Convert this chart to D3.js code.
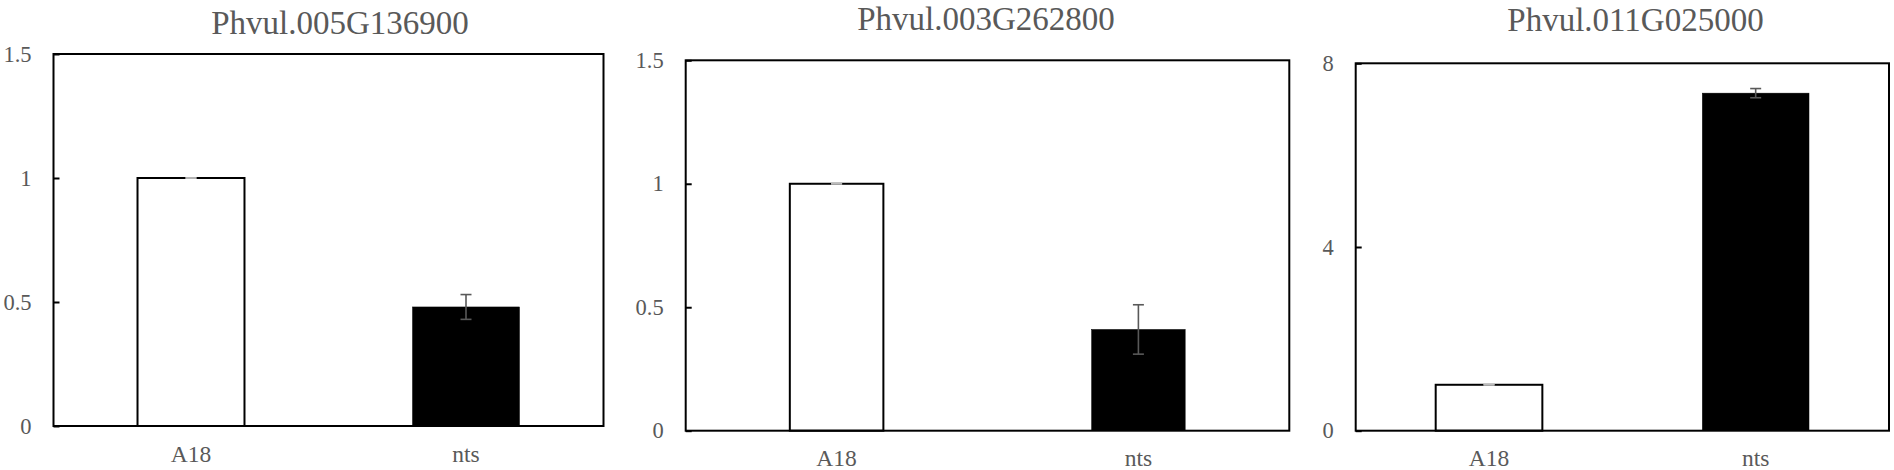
<!DOCTYPE html>
<html>
<head>
<meta charset="utf-8">
<script src="https://cdn.jsdelivr.net/npm/d3@7"></script>
<style>
  body { margin: 0; background: #fff; }
  svg { display: block; }
</style>
</head>
<body>
<div id="container"></div>
<script>
const w = 1894;
const h = 470;

// data
const genes = ['Phvul.005G136900', 'Phvul.003G262800', 'Phvul.011G025000'];
const lines = ['A18', 'nts'];
const means = [[1, 0.48], [1, 0.41], [1, 7.35]];
const errors = [[0, 0.05], [0, 0.10], [0, 0.10]];
const yTicks = [[0, 0.5, 1, 1.5], [0, 0.5, 1, 1.5], [0, 4, 8]];
const fills = ['#fff', '#000'];

// layout of the three panels
const frames = [
  {x0: 53.5, x1: 603.5, y0: 54, y1: 426, pad: 0.611, tx: 340, ty: 34},
  {x0: 685.7, x1: 1289.3, y0: 60.3, y1: 430.7, pad: 0.69, tx: 986, ty: 29.5},
  {x0: 1355.7, x1: 1889, y0: 63.3, y1: 430.7, pad: 0.60, tx: 1635.5, ty: 30.5}
];

const grey = '#595959';
const serif = "'Liberation Serif', 'Times New Roman', monospace";

const svg = d3.select('#container')
  .append('svg')
  .attr('width', w)
  .attr('height', h)
  .attr('viewBox', [0, 0, w, h]);

genes.forEach((gene, i) => {
  const f = frames[i];
  const g = svg.append('g');

  const x = d3.scaleBand()
    .domain(lines)
    .range([f.x0, f.x1])
    .paddingInner(f.pad)
    .paddingOuter(f.pad / 2);

  const yMax = d3.max(yTicks[i]);
  const y = d3.scaleLinear()
    .domain([0, yMax])
    .range([f.y1, f.y0]);

  const rows = lines.map((l, j) => ({line: l, mean: means[i][j], err: errors[i][j], fill: fills[j]}));

  // bars
  g.selectAll('rect.bar')
    .data(rows)
    .join('rect')
      .attr('class', 'bar')
      .attr('x', d => x(d.line))
      .attr('y', d => y(d.mean))
      .attr('width', x.bandwidth())
      .attr('height', d => y(0) - y(d.mean))
      .attr('fill', d => d.fill)
      .attr('stroke', '#000')
      .attr('stroke-width', d => d.fill === '#fff' ? 2 : 0.5);

  // error bars
  const cap = 5.5;
  const cx = d => x(d.line) + x.bandwidth() / 2;
  const eb = g.selectAll('g.err')
    .data(rows)
    .join('g')
      .attr('class', 'err')
      .attr('stroke', grey)
      .attr('stroke-width', 1.6);
  eb.append('line')
    .attr('x1', cx)
    .attr('x2', cx)
    .attr('y1', d => y(d.mean + d.err))
    .attr('y2', d => y(d.mean - d.err));
  [1, -1].forEach(s => {
    eb.append('line')
      .attr('x1', d => cx(d) - cap)
      .attr('x2', d => cx(d) + cap)
      .attr('y1', d => y(d.mean + s * d.err))
      .attr('y2', d => y(d.mean + s * d.err))
      .attr('stroke', d => d.err === 0 ? '#bbb' : grey);
  });

  // y axis, ticks pointing inside
  const yAxis = g.append('g')
    .attr('transform', `translate(${f.x0},0)`)
    .call(d3.axisLeft(y).tickValues(yTicks[i]).tickFormat(d => String(d)).tickSize(-6).tickPadding(22));
  yAxis.select('.domain').remove();
  yAxis.selectAll('line').attr('stroke', '#000').attr('stroke-width', 2);
  yAxis.selectAll('text')
    .attr('fill', grey)
    .style('font-family', serif)
    .style('font-size', '22.5px');

  // x axis labels
  const xAxis = g.append('g')
    .attr('transform', `translate(0,${f.y1})`)
    .call(d3.axisBottom(x).tickSize(0).tickPadding(19));
  xAxis.select('.domain').remove();
  xAxis.selectAll('text')
    .attr('fill', grey)
    .style('font-family', serif)
    .style('font-size', '23.5px');

  // plot frame
  g.append('rect')
    .attr('x', f.x0)
    .attr('y', f.y0)
    .attr('width', f.x1 - f.x0)
    .attr('height', f.y1 - f.y0)
    .attr('fill', 'none')
    .attr('stroke', '#000')
    .attr('stroke-width', 2);

  // title
  g.append('text')
    .attr('x', f.tx)
    .attr('y', f.ty)
    .attr('text-anchor', 'middle')
    .attr('fill', grey)
    .style('font-family', serif)
    .style('font-size', '33px')
    .text(gene);
});
</script>
</body>
</html>
